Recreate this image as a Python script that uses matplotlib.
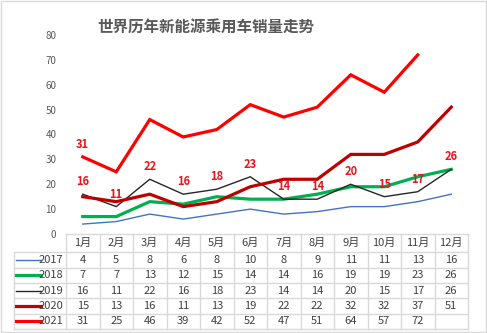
import matplotlib
matplotlib.use('Agg')
import matplotlib.pyplot as plt
from matplotlib.lines import Line2D

plt.rcParams['font.family'] = ['Noto Sans CJK SC', 'DejaVu Sans']

months = ['1月', '2月', '3月', '4月', '5月', '6月', '7月', '8月', '9月', '10月', '11月', '12月']
years = ['2017', '2018', '2019', '2020', '2021']
s2017 = [4, 5, 8, 6, 8, 10, 8, 9, 11, 11, 13, 16]
s2018 = [7, 7, 13, 12, 15, 14, 14, 16, 19, 19, 23, 26]
s2019 = [16, 11, 22, 16, 18, 23, 14, 14, 20, 15, 17, 26]
s2020 = [15, 13, 16, 11, 13, 19, 22, 22, 32, 32, 37, 51]
s2021 = [31, 25, 46, 39, 42, 52, 47, 51, 64, 57, 72, None]
series = [s2017, s2018, s2019, s2020, s2021]
colors = ['#4472C4', '#00B050', '#262626', '#C00000', '#FF0000']
widths = [1.0, 2.3, 1.0, 2.3, 2.3]

W, H = 487, 333
fig = plt.figure(figsize=(W / 100, H / 100), dpi=100)

def fx(px):
    return px / W

def fy(py):
    return 1 - py / H

# plot area
x0, x1, ytop, ybot = 66, 468, 35, 234
ax = fig.add_axes([fx(x0), fy(ybot), fx(x1) - fx(x0), fy(ytop) - fy(ybot)])
xs = list(range(len(months)))
for vals, c, lw in zip(series, colors, widths):
    px = [x for x, v in zip(xs, vals) if v is not None]
    py = [v for v in vals if v is not None]
    ax.plot(px, py, color=c, lw=lw, solid_joinstyle='miter')

# data labels (2019 series plus first 2021 point)
lab_color = '#E8141C'
for x, v in zip(xs, s2019):
    ax.text(x, v + 5, str(v), ha='center', va='center', color=lab_color,
            fontsize=8, fontweight='bold')
ax.text(0, s2021[0] + 5, str(s2021[0]), ha='center', va='center', color=lab_color,
        fontsize=8, fontweight='bold')

ax.set_xlim(-0.5, 11.5)
ax.set_ylim(0, 80)
ax.set_yticks(range(0, 81, 10))
ax.set_xticks([])
ax.tick_params(axis='y', length=0, labelsize=7, labelcolor='#595959', pad=7)
for sp in ax.spines.values():
    sp.set_visible(False)

fig.text(fx(97), fy(28), '世界历年新能源乘用车销量走势', fontsize=11.2, fontweight='bold',
         color='#595959', ha='left', va='center')

# data table under the chart
gc = '#D9D9D9'
row_y = [234, 252, 267.5, 283, 298, 313.5, 328.5]
tab_left = 14
colw = (x1 - x0) / len(months)

def hline(y, xa, xb):
    fig.add_artist(Line2D([fx(xa), fx(xb)], [fy(y), fy(y)], color=gc, lw=1))

def vline(x, ya, yb):
    fig.add_artist(Line2D([fx(x), fx(x)], [fy(ya), fy(yb)], color=gc, lw=1))

hline(row_y[0], x0, x1)
for y in row_y[1:]:
    hline(y, tab_left, x1)
vline(tab_left, row_y[1], row_y[-1])
for i in range(len(months) + 1):
    vline(x0 + i * colw, row_y[0], row_y[-1])

for i, m in enumerate(months):
    fig.text(fx(x0 + (i + 0.5) * colw), fy((row_y[0] + row_y[1]) / 2), m,
             ha='center', va='center', fontsize=8, color='#404040')

for r, (yr, vals, c, lw) in enumerate(zip(years, series, colors, widths)):
    yc = (row_y[r + 1] + row_y[r + 2]) / 2
    fig.add_artist(Line2D([fx(16), fx(41)], [fy(yc), fy(yc)], color=c, lw=lw))
    fig.text(fx(63), fy(yc), yr, ha='right', va='center', fontsize=8, color='#404040')
    for i, v in enumerate(vals):
        if v is None:
            continue
        fig.text(fx(x0 + (i + 0.5) * colw), fy(yc), str(v), ha='center', va='center',
                 fontsize=8, color='#404040')

# outer border
fig.add_artist(plt.Rectangle((0.002, 0.003), 0.995, 0.994, transform=fig.transFigure,
                             fill=False, edgecolor='#D9D9D9', lw=1))

fig.savefig('out.png', dpi=100)
